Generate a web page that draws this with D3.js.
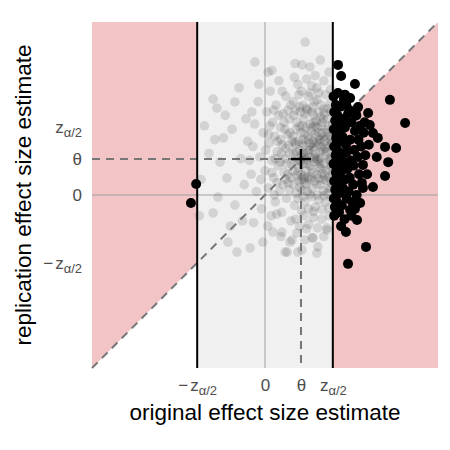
<!DOCTYPE html>
<html>
<head>
<meta charset="utf-8">
<script src="https://cdn.jsdelivr.net/npm/d3@7"></script>
<style>
  body { margin: 0; background: #fff; }
  text { font-family: "Liberation Sans", Arial, sans-serif; }
</style>
</head>
<body>
<div id="graph"></div>
<script>
//Critical value and true effect (same units on both axes)
const zCrit = 1.96;
const theta = 1.04;

//Tick values and labels
const xTickValues = [-zCrit, 0, theta, zCrit];
const xTickLabels = ["-z", "0", "θ", "z"];
const yTickValues = [-zCrit, 0, theta, zCrit];
const yTickLabels = ["-z", "0", "θ", "z"];

//Non-significant studies (grey cloud)
const greyPoints = [
  [-1.85,0.45],[-1.5,2.77],[-1.39,2.51],[-1.5,-0.52],[-1.36,-0.06],[-1.1,0.49],[-1.07,-1.36],[-0.87,2.69],
  [-0.87,-0.29],[-0.81,-1.65],[-1.62,1.2],[-1.2,1.65],[-0.95,1.9],[-0.7,1.05],[-0.6,0.3],[-1.75,2.0],
  [-1.0,-0.9],[-0.55,2.2],[-1.3,0.95],[-0.65,-0.75],[-1.9,-0.6],[-0.75,3.1],[-1.45,1.6],[-0.5,1.55],[-1.15,2.3],
  [-0.43,-1.53],[-0.29,3.84],[0.09,3.55],[-0.06,-1.36],[0.23,-1.07],[0.49,-1.07],[0.58,-1.65],[0.72,-1.36],
  [0.64,-1.65],[0.78,-1.3],[-0.4,0.6],[-0.35,1.4],[-0.3,2.05],[-0.25,0.1],[-0.2,2.7],[-0.15,1.1],[-0.1,-0.4],
  [-0.05,1.8],[0.0,0.7],[0.05,2.4],[0.1,0.2],[0.12,1.5],[0.15,3.0],[0.18,-0.6],[0.2,1.0],[0.22,2.1],[0.25,0.5],
  [0.28,1.7],[0.3,-0.2],[0.32,2.6],[0.35,1.25],[0.38,0.85],[0.4,3.3],[0.42,0.1],[0.45,1.95],[0.48,-0.5],
  [0.5,1.45],[0.52,2.35],[0.55,0.65],[0.57,1.05],[0.6,2.85],[0.62,-0.1],[0.65,1.75],[0.67,0.35],[0.7,2.2],
  [0.72,1.2],[0.75,-0.75],[0.77,0.9],[0.79,1.55],[-0.45,1.0],[-0.38,2.4],[-0.33,-0.8],[-0.12,0.45],[0.02,1.3],
  [0.08,-0.9],[0.14,2.0],[0.27,0.0],[0.36,1.55],[0.44,0.95],[0.5,3.0],[0.58,1.9],[0.66,0.6],[0.74,2.6],
  [0.46,-1.2],[0.2,3.6],[-0.18,3.2],[0.34,-0.55],[0.6,1.35],[0.7,0.15],
  [0.3,1.05],[0.45,1.6],[0.55,2.1],[0.62,0.9],[0.68,1.45],[0.4,2.3],[0.52,0.3],[0.1,1.75],[0.25,2.45],
  [0.72,1.8],[0.6,0.45],[0.35,0.35],[0.66,2.45],[0.48,1.2],[0.75,0.5],[0.2,0.65],
  [1.16,4.42],[0.87,3.8],[1.07,3.76],[1.3,3.7],[1.6,3.9],[1.85,3.55],[1.45,3.45],
  [0.95,3.2],[1.2,3.35],[1.5,3.1],[1.7,3.3],[1.9,3.05],[1.05,3.0],[1.35,3.15],[0.85,3.4],
  [0.82,2.7],[0.98,2.9],[1.1,2.6],[1.25,2.85],[1.38,2.55],[1.5,2.75],[1.62,2.6],[1.75,2.9],[1.88,2.65],
  [1.0,2.55],[1.3,2.95],[1.55,2.95],[1.82,2.5],[1.42,2.7],[1.2,2.5],
  [0.83,2.3],[0.92,2.1],[1.02,2.4],[1.12,2.2],[1.22,2.45],[1.3,2.05],[1.4,2.3],[1.48,2.15],[1.56,2.4],
  [1.65,2.1],[1.72,2.35],[1.8,2.2],[1.9,2.4],[1.95,2.05],[0.88,2.45],[1.08,2.0],[1.35,2.4],[1.6,2.25],
  [1.85,2.0],[1.15,2.35],[1.45,2.0],[1.7,2.48],
  [0.81,1.7],[0.9,1.9],[0.96,1.55],[1.04,1.8],[1.1,1.6],[1.18,1.95],[1.24,1.7],[1.32,1.85],[1.38,1.55],
  [1.44,1.75],[1.52,1.95],[1.58,1.6],[1.66,1.8],[1.74,1.55],[1.8,1.9],[1.88,1.7],[1.94,1.85],[0.86,1.52],
  [1.0,1.98],[1.28,1.5],[1.48,1.5],[1.62,1.98],[1.7,1.68],[1.9,1.55],[1.14,1.75],[1.36,1.95],[1.56,1.8],[1.84,1.62],
  [0.82,1.2],[0.88,1.45],[0.94,1.05],[1.0,1.3],[1.06,1.15],[1.12,1.42],[1.2,1.0],[1.26,1.3],[1.32,1.1],
  [1.4,1.38],[1.46,1.2],[1.54,1.45],[1.6,1.05],[1.68,1.3],[1.74,1.15],[1.82,1.4],[1.9,1.1],[1.95,1.35],
  [0.9,1.25],[1.08,1.48],[1.22,1.22],[1.36,1.48],[1.5,1.02],[1.64,1.4],[1.78,1.25],[1.92,1.48],[1.16,1.08],
  [1.42,1.05],[1.58,1.25],[1.86,1.02],
  [0.8,0.7],[0.86,0.95],[0.92,0.55],[0.98,0.8],[1.04,0.6],[1.1,0.9],[1.18,0.7],[1.24,0.52],[1.3,0.85],
  [1.38,0.65],[1.44,0.95],[1.5,0.58],[1.58,0.8],[1.64,0.62],[1.7,0.92],[1.78,0.7],[1.84,0.5],[1.9,0.85],
  [1.95,0.6],[1.02,0.98],[1.2,0.9],[1.34,0.5],[1.54,0.98],[1.72,0.55],[1.88,0.98],[0.95,0.68],[1.14,0.55],[1.62,0.75],
  [0.82,0.3],[0.9,0.05],[0.98,0.4],[1.06,0.15],[1.14,0.35],[1.22,0.1],[1.28,0.45],[1.36,0.2],[1.44,0.4],
  [1.52,0.0],[1.6,0.3],[1.68,0.12],[1.76,0.42],[1.84,0.2],[1.92,0.35],[1.0,0.22],[1.3,0.02],[1.55,0.48],
  [1.8,0.05],[1.12,0.46],
  [0.85,-0.3],[0.95,-0.1],[1.05,-0.45],[1.15,-0.2],[1.25,-0.4],[1.35,-0.05],[1.45,-0.35],[1.55,-0.15],
  [1.65,-0.42],[1.75,-0.2],[1.85,-0.38],[1.93,-0.1],[1.1,-0.05],[1.4,-0.48],[1.7,-0.02],
  [0.88,-0.7],[1.0,-0.9],[1.12,-0.6],[1.26,-0.85],[1.4,-0.65],[1.52,-0.95],[1.64,-0.7],[1.79,-1.01],
  [1.86,-0.6],[1.2,-0.98],
  [0.95,-1.65],[1.07,-1.59],[1.39,-1.24],[1.53,-1.5],[1.36,-1.24],[1.5,-1.68],[1.79,-0.95],[1.15,-1.3],
  [1.7,-1.2],[0.92,-1.1],
  [1.25,1.6],[1.5,1.7],[1.75,1.35],[1.35,0.75],[1.6,0.9],[1.85,0.75],[1.1,1.2],[1.4,2.1],[1.68,2.2],
  [1.2,0.3],[1.5,0.3],[1.8,1.8],[1.05,0.45],[1.45,1.1],[1.7,0.45],[1.3,1.3],[1.9,0.2],[1.6,1.55]
];

//Significant studies (black)
const sigPoints = [
  [-1.99,0.32],[-2.14,-0.23],
  [2.11,3.76],[2.2,3.44],[2.6,3.21],[3.61,2.75],[4.05,2.08],[2.46,2.8],[2.31,2.9],[2.11,2.95],[2.69,2.54],
  [2.98,2.37],[3.03,2.02],[3.12,1.79],[3.47,1.39],[3.79,1.36],[3.26,1.65],[3.56,0.95],[3.23,1.1],[3.47,0.55],
  [3.12,0.23],[2.83,0.87],[2.83,0.2],[2.66,-0.72],[2.34,-1.07],[2.92,-1.5],[2.4,-1.99],[2.07,-0.52],
  [2.46,-0.43],[2.75,-0.23],
  [2.0,-0.6],[2.02,-0.35],[1.99,-0.1],[2.03,0.15],[2.0,0.4],[2.05,0.65],[1.98,0.9],[2.04,1.15],[2.0,1.4],
  [2.06,1.65],[1.99,1.9],[2.03,2.15],[2.0,2.4],[2.05,2.6],[1.98,2.85],[2.08,-0.2],[2.1,0.3],[2.12,0.8],
  [2.09,1.3],[2.11,1.8],[2.1,2.3],[2.14,-0.5],[2.15,0.05],[2.16,0.55],[2.13,1.05],[2.17,1.55],[2.15,2.05],
  [2.18,2.55],[2.22,-0.3],[2.25,0.2],[2.21,0.7],[2.27,1.2],[2.23,1.7],[2.26,2.2],[2.3,-0.7],[2.32,0.45],
  [2.3,0.95],[2.34,1.45],[2.31,1.95],[2.36,-0.1],[2.38,0.75],[2.37,1.25],[2.4,2.35],[2.35,2.6],[2.42,0.1],
  [2.28,2.75],[2.45,0.5],[2.48,1.0],[2.46,1.6],[2.5,2.1],[2.52,-0.2],[2.55,0.3],[2.58,1.3],[2.6,1.85],
  [2.56,0.85],[2.62,2.4],[2.65,0.0],[2.68,1.1],[2.7,1.6],[2.72,0.6],[2.75,2.0],[2.78,1.4],[2.8,0.35],
  [2.5,-0.6],[2.64,2.3],[2.44,2.45],[2.85,1.8],[2.9,1.15],[2.95,0.6],[3.0,1.45],[2.88,2.1],[2.2,-0.9],[2.6,-0.4]
];

//Display specifications
const W = 450, H = 450;
const margin = {top: 22, right: 12, bottom: 82, left: 92};

const svg = d3.select("#graph")
  .append("svg")
  .attr("width", W)
  .attr("height", H);

//Scales
const x = d3.scaleLinear().domain([-5, 5]).range([margin.left, W - margin.right]);
const y = d3.scaleLinear().domain([-5, 5]).range([H - margin.bottom, margin.top]);
const [x0, x1] = x.domain();
const [y0, y1] = y.domain();

const poly = d3.line().x(d => x(d[0])).y(d => y(d[1]));

//Pink regions: sign error / overestimated
svg.append("path")
  .attr("d", poly([[x0, y0], [x0, y1], [-zCrit, y1], [-zCrit, -zCrit]]) + "Z")
  .attr("fill", "#f2c4c6");
svg.append("path")
  .attr("d", poly([[zCrit, zCrit], [x1, y1], [x1, y0], [zCrit, y0]]) + "Z")
  .attr("fill", "#f2c4c6");

//Non-significant band
svg.append("rect")
  .attr("x", x(-zCrit))
  .attr("y", y(y1))
  .attr("width", x(zCrit) - x(-zCrit))
  .attr("height", y(y0) - y(y1))
  .attr("fill", "#f0f0f0");

//Zero lines
svg.append("line")
  .attr("x1", x(x0)).attr("x2", x(x1))
  .attr("y1", y(0)).attr("y2", y(0))
  .attr("stroke", "#a0a0a0").attr("stroke-width", 1);
svg.append("line")
  .attr("x1", x(0)).attr("x2", x(0))
  .attr("y1", y(y0)).attr("y2", y(y1))
  .attr("stroke", "#a0a0a0").attr("stroke-width", 1);

//Grey points
svg.append("g")
  .selectAll("circle")
  .data(greyPoints)
  .enter()
  .append("circle")
  .attr("cx", d => x(d[0]))
  .attr("cy", d => y(d[1]))
  .attr("r", 4.8)
  .attr("fill", "#222")
  .attr("fill-opacity", 0.14);

//Dashed reference lines
const dash = g => g.attr("stroke", "#777").attr("stroke-width", 2).attr("stroke-dasharray", "8,6").attr("fill", "none");
svg.append("line")
  .attr("x1", x(x0)).attr("y1", y(y0))
  .attr("x2", x(x1)).attr("y2", y(y1))
  .call(dash);
svg.append("line")
  .attr("x1", x(x0)).attr("y1", y(theta))
  .attr("x2", x(theta)).attr("y2", y(theta))
  .call(dash);
svg.append("line")
  .attr("x1", x(theta)).attr("y1", y(theta))
  .attr("x2", x(theta)).attr("y2", y(y0))
  .call(dash);

//Significance thresholds
[-zCrit, zCrit].forEach(v => {
  svg.append("line")
    .attr("x1", x(v)).attr("x2", x(v))
    .attr("y1", y(y0)).attr("y2", y(y1))
    .attr("stroke", "#000").attr("stroke-width", 2);
});

//Significant points
svg.append("g")
  .selectAll("circle")
  .data(sigPoints)
  .enter()
  .append("circle")
  .attr("cx", d => x(d[0]))
  .attr("cy", d => y(d[1]))
  .attr("r", 5)
  .attr("fill", "#000");

//True effect marker
svg.append("path")
  .attr("d", `M${x(theta) - 10},${y(theta)}H${x(theta) + 10}M${x(theta)},${y(theta) - 10}V${y(theta) + 10}`)
  .attr("stroke", "#000")
  .attr("stroke-width", 2.4);

//Tick label writer with subscript
function writeLabel(sel, labels) {
  sel.each(function (d, i) {
    const t = d3.select(this);
    const lab = labels[i];
    t.text(null).attr("fill", "#4d4d4d").style("font-size", "17px");
    if (lab === "-z" || lab === "z") {
      if (lab === "-z") t.append("tspan").text("−");
      t.append("tspan").attr("dx", lab === "-z" ? 2 : 0).text("z");
      t.append("tspan").attr("dy", 4).style("font-size", "13px").text("α/2");
    } else {
      t.text(lab);
    }
  });
}

//X axis
const gx = svg.append("g")
  .attr("transform", `translate(0,${H - margin.bottom})`)
  .call(d3.axisBottom(x).tickValues(xTickValues).tickSize(0).tickPadding(11));
gx.select(".domain").remove();
gx.selectAll(".tick text").call(writeLabel, xTickLabels);

//Y axis
const gy = svg.append("g")
  .attr("transform", `translate(${margin.left},0)`)
  .call(d3.axisLeft(y).tickValues(yTickValues).tickSize(0).tickPadding(10));
gy.select(".domain").remove();
gy.selectAll(".tick text").call(writeLabel, yTickLabels);

//Axis titles
svg.append("text")
  .attr("x", (x(x0) + x(x1)) / 2)
  .attr("y", 420)
  .attr("text-anchor", "middle")
  .style("font-size", "22.5px")
  .attr("fill", "#000")
  .text("original effect size estimate");

svg.append("text")
  .attr("transform", "rotate(-90)")
  .attr("x", -(y(y0) + y(y1)) / 2)
  .attr("y", 31)
  .attr("text-anchor", "middle")
  .style("font-size", "22.5px")
  .attr("fill", "#000")
  .text("replication effect size estimate");
</script>
</body>
</html>
